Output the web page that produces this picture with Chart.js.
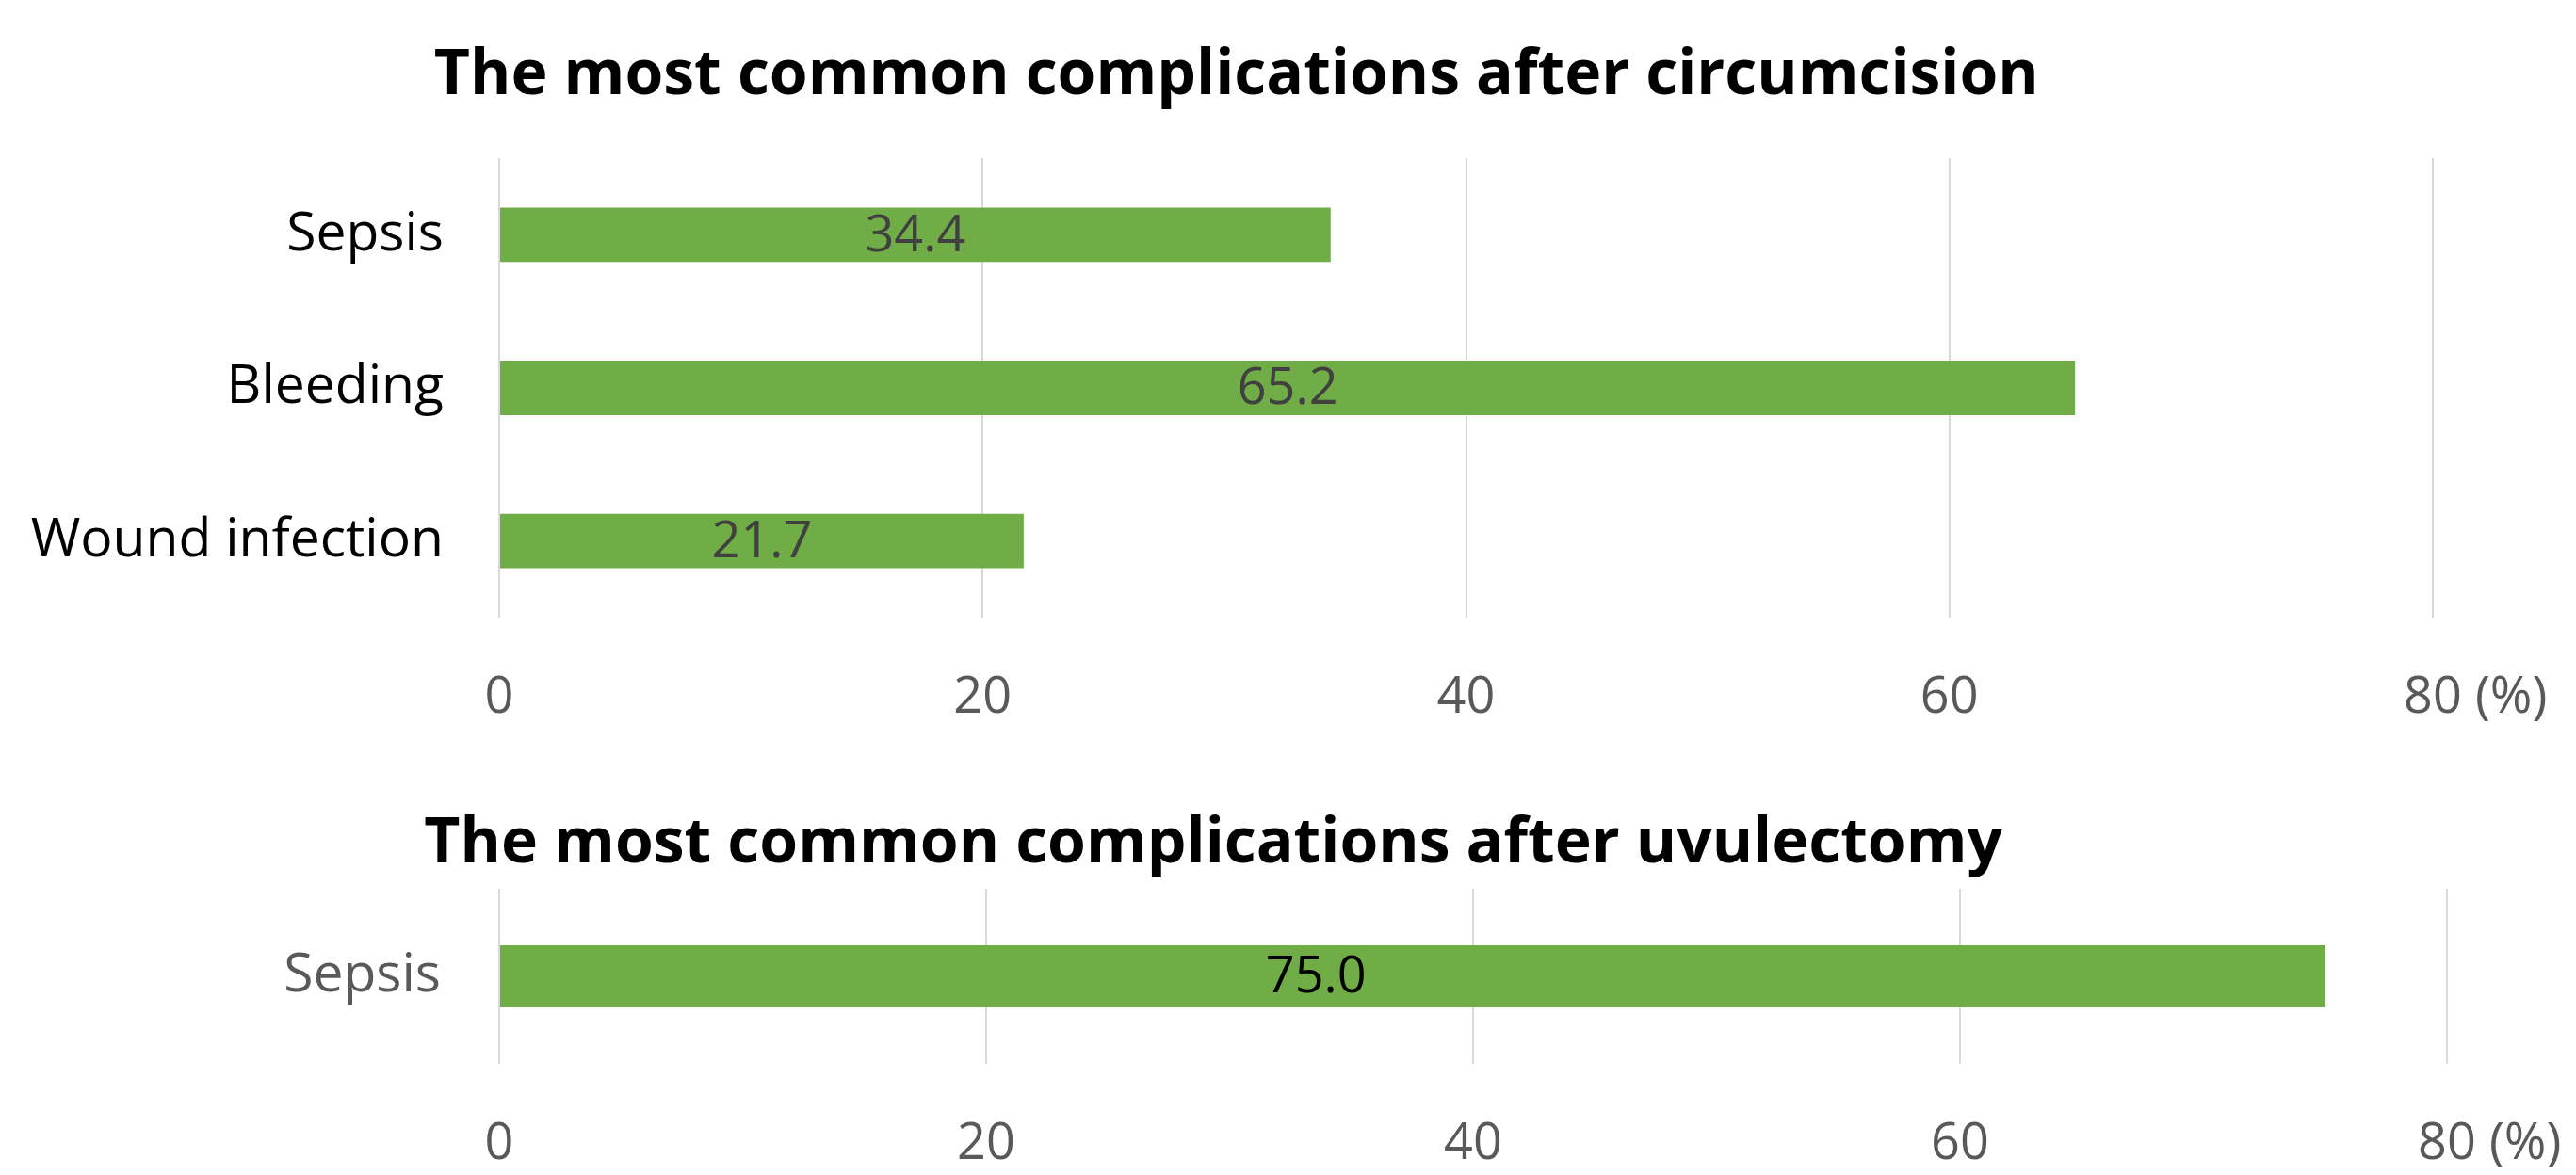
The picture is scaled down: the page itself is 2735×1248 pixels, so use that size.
<!DOCTYPE html>
<html>
<head>
<meta charset="utf-8">
<script src="https://cdn.jsdelivr.net/npm/chart.js@4.4.0/dist/chart.umd.min.js"></script>
<style>
  html, body { margin: 0; padding: 0; background: #fff; }
  #wrap { width: 2735px; height: 1248px; position: relative; }
  .box { position: absolute; left: 0; width: 2735px; }
</style>
</head>
<body>
<div id="wrap">
  <div class="box" style="top:0;height:800px"><canvas id="circumcision"></canvas></div>
  <div class="box" style="top:800px;height:448px"><canvas id="uvulectomy"></canvas></div>
</div>
<script>
const circumcisionTitle = 'The most common complications after circumcision';
const circumcisionLabels = ['Sepsis', 'Bleeding', 'Wound infection'];
const circumcisionValues = [34.4, 65.2, 21.7];

const uvulectomyTitle = 'The most common complications after uvulectomy';
const uvulectomyLabels = ['Sepsis'];
const uvulectomyValues = [75.0];

const xTicks = [0, 20, 40, 60, 80];
const unitLabel = '(%)';

const FONT = "'Open Sans', sans-serif";
const GREEN = '#70AD47';

// title drawn at a set spot of the canvas (the original is not centred on the page)
const titlePlugin = {
  id: 'sideTitle',
  afterDraw(chart, args, opts) {
    const { ctx } = chart;
    ctx.save();
    ctx.font = `bold ${opts.size}px ${FONT}`;
    ctx.fillStyle = '#000';
    ctx.textAlign = 'center';
    ctx.textBaseline = 'alphabetic';
    ctx.fillText(opts.text, chart.width * opts.xFrac, opts.baseline);
    ctx.restore();
  },
};

// value written inside each bar
const valuePlugin = {
  id: 'barValues',
  afterDatasetsDraw(chart, args, opts) {
    const { ctx } = chart;
    const meta = chart.getDatasetMeta(0);
    const values = chart.data.datasets[0].data;
    ctx.save();
    ctx.font = `${opts.size}px ${FONT}`;
    ctx.fillStyle = opts.color;
    ctx.textAlign = 'center';
    ctx.textBaseline = 'middle';
    meta.data.forEach((bar, i) => {
      const { x, y, base } = bar.getProps(['x', 'y', 'base'], true);
      ctx.fillText(values[i].toFixed(1), base + (x - base) * opts.frac, y + 2);
    });
    ctx.restore();
  },
};

// "(%)" after the last tick
const unitPlugin = {
  id: 'unit',
  afterDraw(chart, args, opts) {
    const scale = chart.scales.x;
    const { ctx } = chart;
    const last = xTicks[xTicks.length - 1];
    const size = scale.options.ticks.font.size;
    ctx.save();
    ctx.font = `${size}px ${FONT}`;
    ctx.fillStyle = '#595959';
    ctx.textAlign = 'left';
    ctx.textBaseline = 'middle';
    const w = ctx.measureText(String(last)).width;
    const y = scale.top + scale.options.ticks.padding + size * 1.2 / 2;
    ctx.fillText(unitLabel, scale.getPixelForValue(last) + w / 2 + opts.gap, y);
    ctx.restore();
  },
};

function makeChart(id, cfg) {
  return new Chart(document.getElementById(id), {
    type: 'bar',
    data: {
      labels: cfg.labels,
      datasets: [{
        data: cfg.values,
        backgroundColor: GREEN,
        borderWidth: 0,
        categoryPercentage: 1,
        barPercentage: 0.356,
      }],
    },
    plugins: [titlePlugin, valuePlugin, unitPlugin],
    options: {
      indexAxis: 'y',
      responsive: true,
      maintainAspectRatio: false,
      animation: false,
      layout: { padding: { top: cfg.top, right: cfg.right, left: 0, bottom: 0 } },
      plugins: {
        legend: { display: false },
        tooltip: { enabled: false },
        title: { display: false },
        sideTitle: { text: cfg.title, xFrac: cfg.titleX, baseline: cfg.titleBaseline, size: 66 },
        barValues: { size: 54, color: cfg.valueColor, frac: cfg.valueFrac },
        unit: { gap: 14 },
      },
      scales: {
        x: {
          min: 0,
          max: 80,
          afterBuildTicks: (s) => { s.ticks = xTicks.map((v) => ({ value: v })); },
          afterFit: (s) => { s.height = cfg.xHeight; },
          grid: { color: '#d9d9d9', lineWidth: 2, drawTicks: false },
          border: { display: false },
          ticks: {
            padding: 53,
            color: '#595959',
            font: { family: FONT, size: 54 },
            maxRotation: 0,
          },
        },
        y: {
          afterFit: (s) => { s.width = 530; },
          grid: { display: false, drawTicks: false },
          border: { display: false },
          ticks: {
            padding: cfg.yPad,
            color: cfg.catColor,
            font: { family: FONT, size: 57 },
          },
        },
      },
    },
  });
}

makeChart('circumcision', {
  labels: circumcisionLabels,
  values: circumcisionValues,
  title: circumcisionTitle,
  titleX: 0.480,
  titleBaseline: 100,
  top: 168,
  right: 152,
  xHeight: 144,
  yPad: 59,
  catColor: '#000000',
  valueColor: '#404040',
  valueFrac: 0.5,
});

makeChart('uvulectomy', {
  labels: uvulectomyLabels,
  values: uvulectomyValues,
  title: uvulectomyTitle,
  titleX: 0.471,
  titleBaseline: 116,
  top: 144,
  right: 137,
  xHeight: 118,
  yPad: 62,
  catColor: '#595959',
  valueColor: '#000000',
  valueFrac: 0.447,
});
</script>
</body>
</html>
